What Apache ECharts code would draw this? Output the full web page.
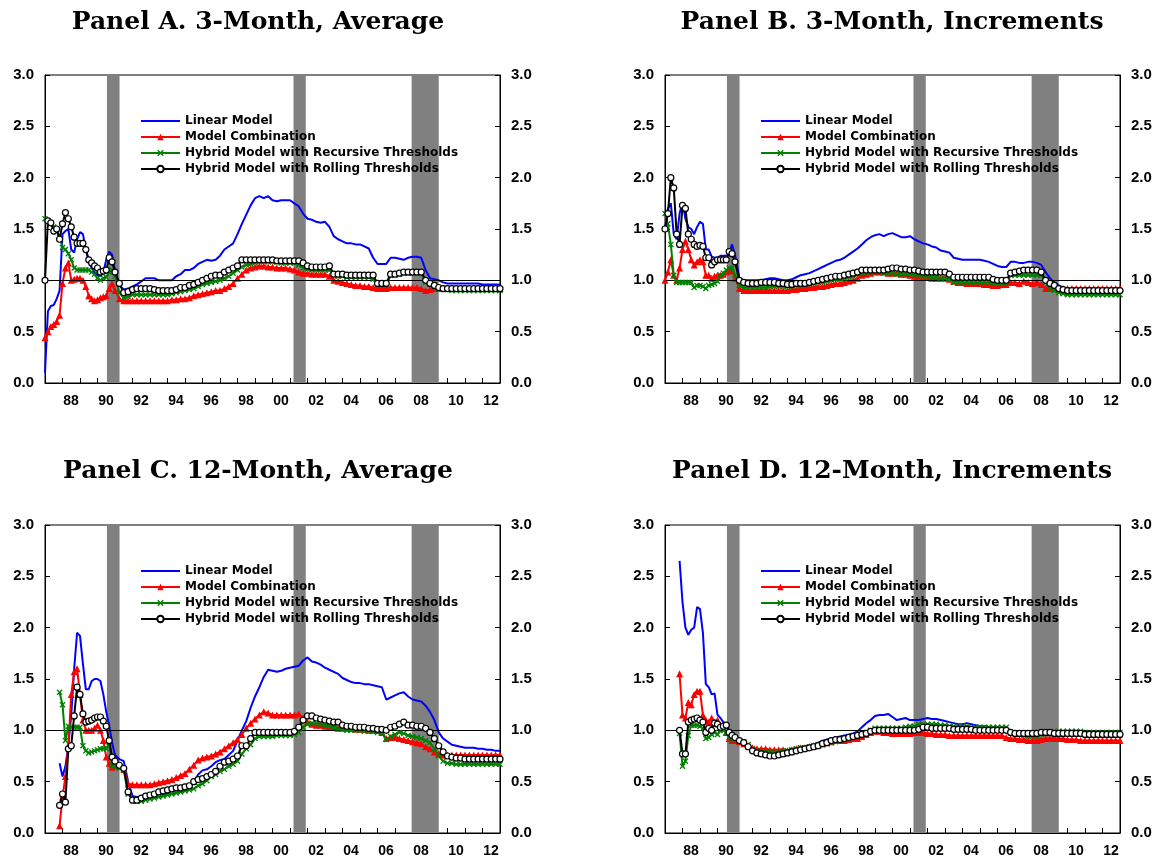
<!DOCTYPE html>
<html>
<head>
<meta charset="utf-8">
<script src="https://cdn.jsdelivr.net/npm/echarts@6/dist/echarts.min.js"></script>
<style>
html,body{margin:0;padding:0;background:#fff;}
#chart{width:1163px;height:863px;}
</style>
</head>
<body>
<div id="chart"></div>
<script>
// Sampling grid: every 2 months 1987.0-1990.83, quarterly 1991.0-2013.0
const dates = [];
for (let i = 0; i < 24; i++) dates.push(1987 + i / 6);
for (let i = 0; i <= 88; i++) dates.push(1991 + i / 4);

const seriesNames = ['Linear Model', 'Model Combination', 'Hybrid Model with Recursive Thresholds', 'Hybrid Model with Rolling Thresholds'];
const panelTitles = ['Panel A. 3-Month, Average', 'Panel B. 3-Month, Increments', 'Panel C. 12-Month, Average', 'Panel D. 12-Month, Increments'];
const recessions = [[1990.54, 1991.26], [2001.2, 2001.9], [2007.95, 2009.5]];
const yTicks = [0, 0.5, 1.0, 1.5, 2.0, 2.5, 3.0];

// ---------- Panel A ----------
const A_linear = [
 0.10,0.70,0.75,0.76,0.82,0.90,
 1.45,1.48,1.50,1.30,1.27,1.40,
 1.47,1.45,1.30,1.18,1.12,1.08,
 1.05,1.04,1.08,1.20,1.28,1.25,
 1.10,0.95,0.91,0.92, 0.94,0.96,0.99,1.02, 1.02,1.02,1.00,1.00, 1.00,1.00,1.04,1.06,
 1.10,1.10,1.12,1.16, 1.18,1.20,1.19,1.20, 1.24,1.30,1.33,1.36, 1.45,1.55,1.64,1.73,
 1.80,1.82,1.80,1.82, 1.78,1.77,1.78,1.78, 1.78,1.75,1.72,1.65, 1.60,1.59,1.57,1.56,
 1.57,1.52,1.43,1.40, 1.38,1.36,1.36,1.35, 1.35,1.33,1.31,1.22, 1.16,1.16,1.16,1.22,
 1.22,1.21,1.20,1.22, 1.23,1.23,1.22,1.10, 1.02,1.01,1.00,0.98, 0.97,0.97,0.97,0.97,
 0.97,0.97,0.97,0.97, 0.96,0.96,0.96,0.96, 0.96];
const A_combination = [
 0.44,0.50,0.55,0.57,0.60,0.66,
 0.97,1.12,1.17,1.00,1.01,1.02,
 1.02,1.00,0.94,0.85,0.82,0.80,
 0.81,0.83,0.84,0.85,0.92,0.97,
 0.90,0.82,0.80,0.80, 0.80,0.80,0.80,0.80, 0.80,0.80,0.80,0.80, 0.80,0.81,0.81,0.82,
 0.82,0.83,0.85,0.86, 0.87,0.88,0.89,0.90, 0.90,0.92,0.94,0.97, 1.02,1.06,1.10,1.12,
 1.13,1.14,1.14,1.13, 1.13,1.12,1.12,1.12, 1.11,1.10,1.08,1.07, 1.07,1.06,1.06,1.06,
 1.06,1.04,1.00,0.99, 0.98,0.97,0.96,0.95, 0.95,0.94,0.94,0.93, 0.92,0.92,0.92,0.93,
 0.93,0.93,0.93,0.93, 0.93,0.93,0.92,0.90, 0.91,0.92,0.92,0.92, 0.92,0.92,0.92,0.92,
 0.92,0.92,0.92,0.92, 0.92,0.92,0.92,0.92, 0.92];
const A_recursive = [
 1.60,1.58,1.55,1.52,1.50,1.42,
 1.32,1.30,1.26,1.20,1.12,1.10,
 1.10,1.10,1.10,1.10,1.08,1.06,
 1.02,1.00,1.02,1.03,1.08,1.10,
 1.04,0.88,0.83,0.84, 0.86,0.86,0.86,0.86, 0.86,0.86,0.86,0.86, 0.86,0.87,0.88,0.89,
 0.90,0.91,0.92,0.94, 0.96,0.97,0.98,0.99, 1.00,1.02,1.04,1.07, 1.10,1.13,1.15,1.16,
 1.17,1.18,1.18,1.18, 1.18,1.18,1.17,1.17, 1.17,1.17,1.15,1.12, 1.11,1.10,1.10,1.10,
 1.10,1.10,1.05,1.04, 1.04,1.03,1.03,1.03, 1.03,1.03,1.03,1.01, 0.95,0.95,0.95,1.05,
 1.05,1.06,1.07,1.07, 1.07,1.07,1.07,0.98, 0.96,0.93,0.92,0.91, 0.91,0.90,0.90,0.90,
 0.90,0.90,0.90,0.90, 0.90,0.90,0.90,0.90, 0.90];
const A_rolling = [
 1.00,1.58,1.56,1.48,1.50,1.40,
 1.55,1.66,1.60,1.52,1.42,1.36,
 1.36,1.36,1.30,1.20,1.17,1.14,
 1.12,1.08,1.09,1.10,1.22,1.18,
 1.08,0.97,0.88,0.89, 0.91,0.92,0.92,0.92, 0.92,0.91,0.90,0.90, 0.90,0.90,0.91,0.93,
 0.93,0.95,0.96,0.98, 1.00,1.02,1.04,1.05, 1.05,1.08,1.10,1.12, 1.14,1.20,1.20,1.20,
 1.20,1.20,1.20,1.20, 1.20,1.19,1.19,1.19, 1.19,1.19,1.19,1.17, 1.14,1.13,1.13,1.13,
 1.13,1.14,1.06,1.06, 1.06,1.05,1.05,1.05, 1.05,1.05,1.05,1.05, 0.97,0.97,0.97,1.06,
 1.06,1.07,1.08,1.08, 1.08,1.08,1.08,1.00, 0.97,0.95,0.93,0.92, 0.92,0.92,0.92,0.92,
 0.92,0.92,0.92,0.92, 0.92,0.92,0.92,0.92, 0.92];

// ---------- Panel B ----------
const B_linear = [
 1.50,1.70,1.75,1.45,1.40,1.65,
 1.76,1.60,1.52,1.50,1.45,1.52,
 1.57,1.55,1.30,1.30,1.23,1.22,
 1.22,1.24,1.24,1.24,1.26,1.35,
 1.25,1.02,1.00,1.00, 1.00,1.00,1.00,1.01, 1.02,1.02,1.01,1.00, 1.00,1.01,1.03,1.05,
 1.06,1.07,1.09,1.11, 1.13,1.15,1.17,1.19, 1.20,1.22,1.25,1.28, 1.31,1.35,1.39,1.42,
 1.44,1.45,1.43,1.45, 1.46,1.44,1.42,1.42, 1.43,1.40,1.38,1.36, 1.35,1.33,1.32,1.29,
 1.28,1.27,1.22,1.21, 1.20,1.20,1.20,1.20, 1.20,1.19,1.18,1.16, 1.14,1.13,1.13,1.18,
 1.18,1.17,1.17,1.18, 1.18,1.17,1.15,1.08, 1.02,0.98,0.95,0.93, 0.92,0.92,0.92,0.92,
 0.92,0.92,0.92,0.92, 0.92,0.92,0.92,0.92, 0.92];
const B_combination = [
 1.00,1.08,1.20,1.05,1.00,1.12,
 1.30,1.38,1.30,1.20,1.15,1.18,
 1.20,1.18,1.05,1.05,1.02,1.04,
 1.05,1.05,1.06,1.08,1.09,1.10,
 1.02,0.92,0.90,0.90, 0.90,0.90,0.90,0.90, 0.90,0.90,0.90,0.90, 0.90,0.91,0.91,0.92,
 0.92,0.93,0.93,0.94, 0.94,0.95,0.96,0.97, 0.97,0.98,0.99,1.00, 1.02,1.05,1.06,1.07,
 1.08,1.08,1.08,1.07, 1.07,1.07,1.06,1.06, 1.05,1.04,1.04,1.03, 1.03,1.02,1.02,1.02,
 1.02,1.01,0.99,0.98, 0.98,0.97,0.97,0.97, 0.97,0.96,0.96,0.95, 0.95,0.96,0.96,0.98,
 0.98,0.97,0.99,0.98, 0.97,0.98,0.96,0.92, 0.92,0.92,0.92,0.92, 0.92,0.92,0.92,0.92,
 0.92,0.92,0.92,0.92, 0.92,0.92,0.92,0.92, 0.92];
const B_recursive = [
 1.65,1.55,1.35,1.05,0.98,0.98,
 0.98,0.98,0.98,0.98,0.93,0.95,
 0.95,0.94,0.92,0.95,0.96,0.97,
 0.99,1.05,1.07,1.10,1.12,1.12,
 1.05,0.95,0.93,0.93, 0.93,0.93,0.93,0.93, 0.94,0.94,0.94,0.94, 0.94,0.94,0.95,0.95,
 0.95,0.96,0.97,0.98, 0.98,0.99,1.00,1.01, 1.01,1.02,1.03,1.04, 1.06,1.07,1.07,1.08,
 1.08,1.08,1.07,1.07, 1.07,1.06,1.06,1.06, 1.06,1.05,1.05,1.04, 1.04,1.03,1.03,1.02,
 1.02,1.01,0.98,0.98, 0.98,0.98,0.98,0.98, 0.98,0.98,0.98,0.97, 0.97,0.97,0.97,1.05,
 1.05,1.05,1.05,1.05, 1.05,1.05,1.05,0.98, 0.92,0.90,0.88,0.87, 0.86,0.86,0.86,0.86,
 0.86,0.86,0.86,0.86, 0.86,0.86,0.86,0.86, 0.86];
const B_rolling = [
 1.50,1.65,2.00,1.90,1.45,1.35,
 1.73,1.70,1.45,1.40,1.35,1.33,
 1.34,1.33,1.22,1.22,1.15,1.18,
 1.20,1.20,1.20,1.20,1.28,1.26,
 1.18,1.00,0.98,0.97, 0.97,0.97,0.98,0.98, 0.98,0.98,0.97,0.97, 0.96,0.96,0.97,0.97,
 0.97,0.98,0.99,1.00, 1.01,1.02,1.03,1.04, 1.04,1.05,1.06,1.07, 1.08,1.10,1.10,1.10,
 1.10,1.10,1.10,1.11, 1.12,1.12,1.11,1.11, 1.10,1.10,1.09,1.08, 1.08,1.08,1.08,1.08,
 1.08,1.06,1.03,1.03, 1.03,1.03,1.03,1.03, 1.03,1.03,1.03,1.01, 1.00,1.00,1.00,1.07,
 1.08,1.09,1.10,1.10, 1.10,1.10,1.08,1.00, 0.97,0.95,0.92,0.91, 0.90,0.90,0.90,0.90,
 0.90,0.90,0.90,0.90, 0.90,0.90,0.90,0.90, 0.90];

// ---------- Panel C ----------
const C_linear = [
 null,null,null,null,null,0.68,
 0.55,0.65,0.85,1.15,1.60,1.95,
 1.92,1.65,1.40,1.40,1.48,1.50,
 1.50,1.48,1.35,1.18,1.05,0.88,
 0.76,0.72,0.70,0.50, 0.36,0.35,0.35,0.36, 0.36,0.37,0.38,0.38, 0.38,0.38,0.39,0.41,
 0.42,0.45,0.50,0.57, 0.61,0.62,0.65,0.69, 0.71,0.72,0.76,0.80, 0.90,1.00,1.09,1.22,
 1.33,1.42,1.52,1.59, 1.58,1.57,1.58,1.60, 1.61,1.62,1.63,1.68, 1.71,1.67,1.66,1.64,
 1.61,1.59,1.57,1.55, 1.51,1.49,1.47,1.46, 1.46,1.45,1.45,1.44, 1.43,1.42,1.30,1.32,
 1.34,1.36,1.37,1.33, 1.30,1.29,1.28,1.24, 1.18,1.10,0.98,0.92, 0.89,0.86,0.85,0.84,
 0.83,0.83,0.83,0.82, 0.82,0.81,0.81,0.80, 0.80];
const C_combination = [
 null,null,null,null,null,0.07,
 0.35,0.55,0.85,1.35,1.57,1.60,
 1.35,1.10,1.00,1.00,1.00,1.02,
 1.05,1.00,0.90,0.74,0.68,0.64,
 0.66,0.65,0.62,0.48, 0.47,0.47,0.47,0.47, 0.47,0.48,0.49,0.50, 0.51,0.52,0.54,0.56,
 0.58,0.62,0.66,0.71, 0.73,0.74,0.75,0.77, 0.79,0.82,0.85,0.88, 0.91,0.96,1.02,1.07,
 1.11,1.15,1.18,1.17, 1.15,1.15,1.15,1.15, 1.15,1.15,1.16,1.12, 1.08,1.06,1.05,1.05,
 1.04,1.03,1.03,1.02, 1.02,1.02,1.02,1.01, 1.01,1.01,1.00,1.00, 1.00,0.98,0.92,0.93,
 0.93,0.92,0.91,0.90, 0.89,0.88,0.87,0.84, 0.82,0.79,0.77,0.76, 0.76,0.76,0.76,0.76,
 0.76,0.76,0.76,0.76, 0.76,0.76,0.76,0.76, 0.76];
const C_recursive = [
 null,null,null,null,null,1.37,
 1.25,0.90,1.04,1.03,1.03,1.03,
 1.03,0.85,0.80,0.78,0.79,0.80,
 0.81,0.82,0.82,0.82,0.88,0.66,
 0.64,0.63,0.61,0.38, 0.33,0.31,0.31,0.32, 0.33,0.34,0.35,0.36, 0.37,0.38,0.39,0.40,
 0.41,0.42,0.43,0.46, 0.48,0.51,0.55,0.57, 0.60,0.62,0.65,0.67, 0.70,0.77,0.82,0.86,
 0.92,0.94,0.94,0.94, 0.94,0.95,0.95,0.95, 0.95,0.96,0.98,1.03, 1.06,1.07,1.07,1.06,
 1.05,1.04,1.03,1.02, 1.01,1.00,1.00,1.00, 1.00,0.99,0.99,0.99, 0.98,0.98,0.91,0.94,
 0.96,0.98,0.97,0.95, 0.94,0.93,0.92,0.90, 0.88,0.82,0.75,0.70, 0.68,0.68,0.67,0.67,
 0.67,0.67,0.67,0.67, 0.67,0.67,0.67,0.67, 0.67];
const C_rolling = [
 null,null,null,null,null,0.27,
 0.38,0.30,0.82,0.85,1.14,1.42,
 1.35,1.16,1.08,1.09,1.10,1.12,
 1.13,1.13,1.09,1.04,0.90,0.74,
 0.70,0.66,0.63,0.40, 0.32,0.32,0.34,0.36, 0.37,0.38,0.40,0.41, 0.42,0.43,0.44,0.44,
 0.45,0.46,0.50,0.52, 0.53,0.55,0.57,0.60, 0.65,0.69,0.70,0.72, 0.75,0.85,0.85,0.92,
 0.98,0.98,0.98,0.98, 0.98,0.98,0.98,0.98, 0.98,0.99,1.03,1.10, 1.14,1.14,1.12,1.11,
 1.10,1.09,1.08,1.08, 1.05,1.04,1.04,1.03, 1.03,1.03,1.02,1.02, 1.01,1.01,1.00,1.03,
 1.04,1.06,1.08,1.05, 1.05,1.04,1.04,1.02, 0.98,0.92,0.85,0.79, 0.75,0.74,0.73,0.73,
 0.72,0.72,0.72,0.72, 0.72,0.72,0.72,0.72, 0.72];

// ---------- Panel D ----------
const D_linear = [
 null,null,null,null,null,2.65,
 2.25,2.00,1.93,1.98,2.00,2.20,
 2.18,1.95,1.45,1.42,1.35,1.36,
 1.15,1.12,1.08,1.06,1.00,0.97,
 0.95,0.91,0.87,0.85, 0.82,0.80,0.79,0.78, 0.78,0.78,0.79,0.80, 0.80,0.81,0.82,0.83,
 0.84,0.85,0.86,0.88, 0.90,0.91,0.92,0.93, 0.94,0.95,0.96,0.97, 0.99,1.03,1.07,1.10,
 1.14,1.15,1.15,1.16, 1.13,1.10,1.11,1.12, 1.10,1.10,1.10,1.11, 1.12,1.11,1.11,1.10,
 1.09,1.08,1.07,1.06, 1.06,1.07,1.06,1.05, 1.04,1.04,1.03,1.03, 1.03,1.02,1.00,0.98,
 0.97,0.96,0.96,0.96, 0.96,0.96,0.97,0.98, 0.98,0.98,0.98,0.98, 0.98,0.98,0.98,0.98,
 0.98,0.98,0.98,0.98, 0.98,0.98,0.98,0.97, 0.97];
const D_combination = [
 null,null,null,null,null,1.55,
 1.15,1.12,1.27,1.25,1.35,1.38,
 1.38,1.15,1.10,1.08,1.12,1.08,
 1.10,1.05,1.02,0.98,0.92,0.90,
 0.90,0.89,0.87,0.85, 0.83,0.82,0.82,0.82, 0.81,0.81,0.81,0.81, 0.80,0.81,0.82,0.83,
 0.83,0.84,0.85,0.86, 0.87,0.88,0.89,0.90, 0.90,0.90,0.91,0.92, 0.92,0.94,0.96,0.98,
 0.99,0.99,0.98,0.98, 0.97,0.97,0.97,0.97, 0.97,0.98,0.98,0.98, 0.97,0.97,0.96,0.96,
 0.96,0.95,0.95,0.95, 0.95,0.95,0.95,0.95, 0.95,0.95,0.95,0.95, 0.95,0.95,0.93,0.92,
 0.92,0.91,0.91,0.90, 0.90,0.90,0.91,0.92, 0.92,0.92,0.92,0.92, 0.91,0.91,0.91,0.90,
 0.90,0.90,0.90,0.90, 0.90,0.90,0.90,0.90, 0.90];
const D_recursive = [
 null,null,null,null,null,0.97,
 0.65,0.70,0.95,1.05,1.05,1.05,
 1.04,1.02,0.92,0.93,0.96,0.98,
 0.96,1.00,1.00,0.98,0.93,0.91,
 0.91,0.90,0.89,0.86, 0.82,0.80,0.79,0.79, 0.79,0.79,0.79,0.80, 0.80,0.81,0.82,0.83,
 0.83,0.84,0.85,0.86, 0.86,0.87,0.88,0.89, 0.90,0.91,0.92,0.94, 0.95,0.96,0.98,1.00,
 1.02,1.02,1.02,1.02, 1.02,1.02,1.02,1.03, 1.04,1.04,1.06,1.06, 1.06,1.06,1.06,1.05,
 1.05,1.04,1.04,1.04, 1.04,1.04,1.03,1.03, 1.03,1.03,1.03,1.03, 1.03,1.03,1.03,0.98,
 0.97,0.96,0.95,0.94, 0.94,0.94,0.96,0.97, 0.98,0.99,0.99,0.99, 0.99,0.99,0.99,0.99,
 0.98,0.98,0.98,0.98, 0.98,0.98,0.98,0.98, 0.98];
const D_rolling = [
 null,null,null,null,null,1.00,
 0.77,0.77,1.08,1.10,1.11,1.12,
 1.10,1.08,0.98,1.02,1.00,1.07,
 1.06,1.03,1.04,1.05,0.98,0.95,
 0.93,0.90,0.88,0.84, 0.80,0.78,0.77,0.76, 0.75,0.75,0.76,0.77, 0.78,0.79,0.80,0.81,
 0.82,0.83,0.84,0.85, 0.87,0.88,0.90,0.91, 0.91,0.92,0.93,0.94, 0.95,0.96,0.97,0.99,
 1.00,1.00,1.00,1.00, 1.00,1.00,1.00,1.00, 1.00,1.00,1.01,1.03, 1.03,1.02,1.02,1.02,
 1.02,1.02,1.01,1.01, 1.01,1.01,1.01,1.00, 1.00,1.00,1.00,1.00, 1.00,1.00,1.00,0.98,
 0.97,0.97,0.97,0.97, 0.97,0.97,0.98,0.98, 0.98,0.97,0.97,0.97, 0.97,0.97,0.97,0.97,
 0.96,0.96,0.96,0.96, 0.96,0.96,0.96,0.96, 0.96];

const panels = [
  [A_linear, A_combination, A_recursive, A_rolling],
  [B_linear, B_combination, B_recursive, B_rolling],
  [C_linear, C_combination, C_recursive, C_rolling],
  [D_linear, D_combination, D_recursive, D_rolling]
];

// ---------- layout ----------
const gridBoxes = [
  {left: 45, top: 75}, {left: 665, top: 75},
  {left: 45, top: 525}, {left: 665, top: 525}
];
const GW = 455, GH = 308;
const titleCenters = [[258, 10], [892, 10], [258, 459], [892, 459]];

const colors = ['#0000FF', '#FF0000', '#008000', '#000000'];
const xSymbol = 'path://M0,1.6L1.6,0L5,3.4L8.4,0L10,1.6L6.6,5L10,8.4L8.4,10L5,6.6L1.6,10L0,8.4L3.4,5Z';
const lineIcon = 'path://M0,0L0.01,0L0,0.01Z M0,3L39,3L39,5L0,5Z M39,8L38.99,8L39,7.99Z';
const font = 'Liberation Sans';

function pairs(arr) {
  const out = [];
  dates.forEach((d, i) => { if (arr[i] !== null && arr[i] !== undefined) out.push([d, arr[i]]); });
  return out;
}

const grids = [], xAxes = [], yAxes = [], series = [], legends = [], graphics = [];
gridBoxes.forEach((g, p) => {
  grids.push({left: g.left, top: g.top, width: GW, height: GH, show: true, borderColor: '#000', borderWidth: 1, backgroundColor: 'transparent'});
  xAxes.push({
    type: 'value', gridIndex: p, min: 1987, max: 2013, interval: 1,
    axisLine: {show: true, onZero: false, lineStyle: {color: '#000', width: 1}},
    axisTick: {show: true, inside: true, length: 5, lineStyle: {color: '#000'}},
    splitLine: {show: false},
    axisLabel: {
      show: true, margin: 11, color: '#000', fontFamily: font, fontWeight: 'bold', fontSize: 14,
      padding: [0, 0, 0, 17], showMinLabel: true, showMaxLabel: true,
      formatter: v => (Math.round(v) % 2 === 0 && v < 2013) ? String(Math.round(v)).slice(2) : ''
    }
  });
  ['left', 'right'].forEach(pos => {
    yAxes.push({
      type: 'value', gridIndex: p, position: pos, min: yTicks[0], max: yTicks[yTicks.length - 1], interval: 0.5,
      axisLine: {show: true, lineStyle: {color: '#000', width: 1}},
      axisTick: {show: true, inside: true, length: 5, lineStyle: {color: '#000'}},
      splitLine: {show: false},
      axisLabel: {margin: 11, color: '#000', fontFamily: font, fontWeight: 'bold', fontSize: 15, formatter: v => v.toFixed(1)}
    });
  });
  // recession bands
  series.push({
    type: 'line', xAxisIndex: p, yAxisIndex: p * 2, data: [], z: 1, silent: true,
    markArea: {silent: true, itemStyle: {color: '#808080', opacity: 1}, data: recessions.map(r => [{xAxis: r[0]}, {xAxis: r[1]}])}
  });
  // reference line at 1.0
  series.push({
    type: 'line', xAxisIndex: p, yAxisIndex: p * 2, data: [], z: 2, silent: true,
    markLine: {silent: true, symbol: ['none', 'none'], label: {show: false}, lineStyle: {color: '#000', width: 1, type: 'solid'}, data: [{yAxis: 1}]}
  });
  const arrs = panels[p];
  const symbols = ['none', 'triangle', xSymbol, 'circle'];
  const sizes = [0, 7, 6, 6];
  arrs.forEach((arr, k) => {
    const s = {
      name: seriesNames[k], type: 'line', xAxisIndex: p, yAxisIndex: p * 2,
      data: pairs(arr), z: 3 + k, silent: true,
      symbol: symbols[k], symbolSize: sizes[k], showSymbol: k > 0, showAllSymbol: true,
      lineStyle: {color: colors[k], width: 2},
      itemStyle: {color: colors[k]},
      emphasis: {disabled: true}
    };
    if (k === 3) s.itemStyle = {color: '#FFFFFF', borderColor: '#000000', borderWidth: 1.2};
    series.push(s);
  });
  legends.push({
    orient: 'vertical', left: g.left + 95, top: g.top + 38, padding: 0, itemGap: 0,
    itemWidth: 39, itemHeight: 8, selectedMode: false,
    data: [{name: seriesNames[0], icon: lineIcon}, seriesNames[1], seriesNames[2], seriesNames[3]],
    textStyle: {color: '#000', fontFamily: 'DejaVu Sans', fontWeight: 'bold', fontSize: 12, lineHeight: 16, padding: [0, 0, 0, 0]}
  });
  graphics.push({
    type: 'text', x: titleCenters[p][0], y: titleCenters[p][1], silent: true,
    style: {text: panelTitles[p], font: 'bold 25px "DejaVu Serif"', fill: '#000', align: 'center', verticalAlign: 'top', textAlign: 'center', textVerticalAlign: 'top'}
  });
});

const chart = echarts.init(document.getElementById('chart'), null, {renderer: 'canvas'});
chart.setOption({
  animation: false,
  backgroundColor: '#FFFFFF',
  grid: grids, xAxis: xAxes, yAxis: yAxes, series: series, legend: legends, graphic: graphics
});
</script>
</body>
</html>
